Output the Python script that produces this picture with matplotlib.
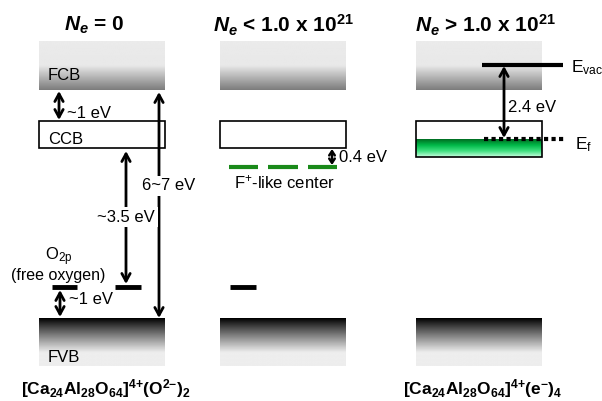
import numpy as np
import matplotlib.pyplot as plt
from matplotlib.colors import LinearSegmentedColormap
from matplotlib.patches import Rectangle

plt.rcParams['font.family'] = ['Liberation Sans', 'DejaVu Sans']
plt.rcParams['mathtext.fontset'] = 'custom'
plt.rcParams['mathtext.rm'] = 'Liberation Sans:bold'
plt.rcParams['mathtext.sf'] = 'Liberation Sans'
plt.rcParams['mathtext.it'] = 'Liberation Sans:italic:bold'
plt.rcParams['mathtext.bf'] = 'Liberation Sans:bold'

# ---- chart content ----
titles = [r"$N_e$ = 0", r"$N_e$ < 1.0 x 10$^{21}$", r"$N_e$ > 1.0 x 10$^{21}$"]
formulas = [r"$\mathbf{[Ca_{24}Al_{28}O_{64}]^{4{+}}(O^{2{-}})_2}$", "",
            r"$\mathbf{[Ca_{24}Al_{28}O_{64}]^{4{+}}(e^{{-}})_4}$"]
band_names = ["FCB", "CCB", "FVB"]
gap_labels = ["~1 eV", "6~7 eV", "~3.5 eV", "~1 eV", "0.4 eV", "2.4 eV"]
level_names = [r"O$_{\mathsf{2p}}$", "(free oxygen)", r"F$^{\mathsf{+}}$-like center",
               r"E$_{\mathsf{vac}}$", r"E$_{\mathsf{f}}$"]

# ---- layout (pixel coordinates, y downwards) ----
panel_x = [39, 220, 416]
band_w = 126
fcb = (41, 90)
ccb = (121, 148)
fvb = (318, 366)
o_level = 287

fig = plt.figure(figsize=(6.02, 4.01), dpi=100)
ax = fig.add_axes([0, 0, 1, 1])


def gradient_box(x0, y0, y1, cmap, profile):
    img = np.array(profile).reshape(-1, 1)
    ax.imshow(img, cmap=cmap, vmin=0, vmax=1, aspect='auto',
              extent=(x0, x0 + band_w, y1, y0), origin='upper', interpolation='bilinear')


def arrow(x, y0, y1, style='<->', hl=0.55, hw=0.3, lw=2):
    ax.annotate('', xy=(x, y1), xytext=(x, y0),
                arrowprops=dict(arrowstyle=f'{style},head_length={hl},head_width={hw}',
                                lw=lw, color='black', shrinkA=0, shrinkB=0))


t = np.linspace(0, 1, 60)
fcb_prof = np.where(t < 0.5, 0.92 - 0.02 * t, 0.91 - 0.42 * ((t - 0.5) / 0.5))
fvb_prof = np.where(t < 0.72, 0.93 * (t / 0.72) ** 0.9, 0.93)
grey = plt.get_cmap('gray')

for i, x0 in enumerate(panel_x):
    gradient_box(x0, fcb[0], fcb[1], grey, fcb_prof)
    gradient_box(x0, fvb[0], fvb[1], grey, fvb_prof)
    ccb_bottom = 157 if i == 2 else ccb[1]
    ax.add_patch(Rectangle((x0, ccb[0]), band_w, ccb_bottom - ccb[0], fill=False,
                           ec='black', lw=1.2, zorder=3))
    ax.text(x0 + 63 + (-8 if i == 0 else (0 if i == 1 else 6)), 25, titles[i],
            fontsize=15, fontweight='bold', ha='center', va='center')
    if formulas[i]:
        ax.text(106 if i == 0 else 483, 389, formulas[i], fontsize=12.5,
                ha='center', va='center')

# panel 1 labels
ax.text(48, 76, band_names[0], fontsize=12, va='center')
ax.text(48, 140, band_names[1], fontsize=12, va='center')
ax.text(48, 357, band_names[2], fontsize=12, va='center')

arrow(59, 91, 120)
ax.text(67, 114, gap_labels[0], fontsize=12, va='center')
arrow(159, 92, 318)
ax.text(142, 186, gap_labels[1], fontsize=12, va='center', zorder=4,
        bbox=dict(fc='white', ec='none', pad=2))
arrow(126, o_level - 3, 151)
ax.text(97, 217, gap_labels[2], fontsize=12, va='center', zorder=4,
        bbox=dict(fc='white', ec='none', pad=2))
ax.plot([52, 77], [o_level, o_level], color='black', lw=3.5, solid_capstyle='butt')
ax.plot([115, 141], [o_level, o_level], color='black', lw=3.5, solid_capstyle='butt')
ax.text(59, 260, level_names[0], fontsize=12, ha='center', va='baseline')
ax.text(58, 280, level_names[1], fontsize=11.5, ha='center', va='baseline')
arrow(60, 290, 317)
ax.text(69, 300, gap_labels[3], fontsize=12, va='center')

# panel 2
for xs in [(229, 258), (268, 298), (308, 337)]:
    ax.plot(xs, [167, 167], color='#1a8a1a', lw=3, solid_capstyle='butt')
arrow(332, 149, 165, hl=0.3, hw=0.2, lw=1.8)
ax.text(339, 157, gap_labels[4], fontsize=12, va='center')
ax.text(284, 182, level_names[2], fontsize=12, ha='center', va='center')
ax.plot([230, 256], [o_level, o_level], color='black', lw=3.5, solid_capstyle='butt')

# panel 3
green = LinearSegmentedColormap.from_list('g', ['#006f22', '#00b848', '#40e080', '#c8ffe0'])
gimg = np.linspace(0, 1, 40).reshape(-1, 1)
ax.imshow(gimg, cmap=green, aspect='auto', extent=(416, 542, 157, 139),
          origin='upper', interpolation='bilinear', zorder=2)
ax.plot([482, 563], [65, 65], color='black', lw=3, solid_capstyle='butt')
ax.plot([484, 565], [139, 139], color='black', lw=3, linestyle=(0, (1, 0.8)))
ax.text(571, 72, level_names[3], fontsize=12.5, va='baseline')
ax.text(575, 149, level_names[4], fontsize=12.5, va='baseline')
arrow(504, 66, 138)
ax.text(508, 107, gap_labels[5], fontsize=12, va='center')

ax.set_xlim(0, 602)
ax.set_ylim(401, 0)
ax.axis('off')
fig.savefig('out.png', dpi=100)
